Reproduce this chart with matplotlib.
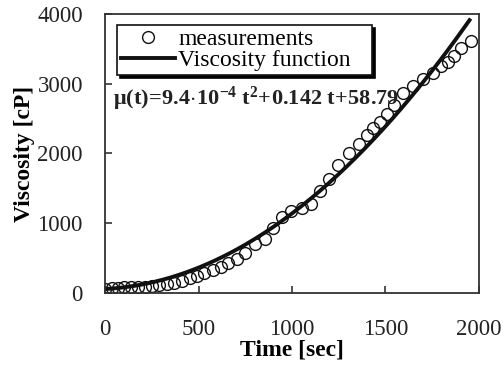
import numpy as np
import matplotlib.pyplot as plt

time_s = [0, 36, 68, 103, 139, 178, 214, 250, 289, 330, 371, 414, 455, 490,
          531, 579, 620, 659, 704, 750, 800, 855, 899, 944, 997, 1051, 1104,
          1150, 1196, 1247, 1305, 1360, 1399, 1435, 1471, 1506, 1545, 1595,
          1649, 1699, 1756, 1800, 1836, 1866, 1907, 1956]
visc_cp = [57, 67, 77, 81, 81, 81, 91, 100, 115, 129, 148, 177, 210, 248,
           291, 330, 377, 425, 483, 575, 700, 782, 935, 1090, 1180, 1225, 1282,
           1460, 1640, 1833, 2005, 2130, 2260, 2360, 2454, 2560, 2690, 2861,
           2970, 3066, 3148, 3260, 3314, 3400, 3506, 3610]

# fitted polynomial coefficients
a2, a1, a0 = 9.4e-4, 0.142, 58.79
t_fit = np.linspace(0, 1950, 200)
mu_fit = a2 * t_fit**2 + a1 * t_fit + a0

plt.rcParams['font.family'] = ['Liberation Serif', 'DejaVu Serif']
plt.rcParams['mathtext.fontset'] = 'custom'
plt.rcParams['mathtext.rm'] = 'Liberation Serif'
plt.rcParams['mathtext.bf'] = 'Liberation Serif:bold'
plt.rcParams['mathtext.it'] = 'Liberation Serif:italic'

fig = plt.figure(figsize=(5.03, 3.65), dpi=100)
ax = fig.add_axes([0.209, 0.197, 0.743, 0.765])

ax.plot(time_s, visc_cp, 'o', ms=8.5, mfc='none', mec='#111111', mew=1.0,
        label='measurements')
ax.plot(t_fit, mu_fit, '-', color='#111111', lw=2.8,
        label='Viscosity function   ')

ax.set_xlim(0, 2000)
ax.set_ylim(0, 4000)
ax.set_xticks([0, 500, 1000, 1500, 2000])
ax.set_yticks([0, 1000, 2000, 3000, 4000])
ax.tick_params(direction='in', length=5, width=1.2, colors='#333333',
               labelsize=16.5, labelcolor='#222222')
ax.tick_params(axis='x', pad=19)
ax.tick_params(axis='y', pad=16)
for sp in ax.spines.values():
    sp.set_linewidth(1.3)
    sp.set_color('#333333')

ax.set_xlabel('Time [sec]', fontsize=17, fontweight='bold', labelpad=-1)
ax.set_ylabel('Viscosity [cP]', fontsize=17, fontweight='bold', labelpad=2)

leg = ax.legend(loc='upper left', bbox_to_anchor=(0.032, 0.961), borderaxespad=0,
                fontsize=17, frameon=True, fancybox=False, edgecolor='#111111',
                framealpha=1, shadow={'color': 'black', 'alpha': 1},
                handlelength=2.3, handletextpad=0.15, borderpad=0.15,
                labelspacing=0.0)
leg.get_frame().set_linewidth(1.2)

ax.text(0.02, 0.695, r'$\mathbf{\mu(t)\!=\!9.4\!\cdot\!10^{-4}\ t^{2}\!+\!0.142\ t\!+\!58.79}$',
        transform=ax.transAxes, fontsize=16, color='#222222', va='center')

fig.savefig('out.png', dpi=100)
